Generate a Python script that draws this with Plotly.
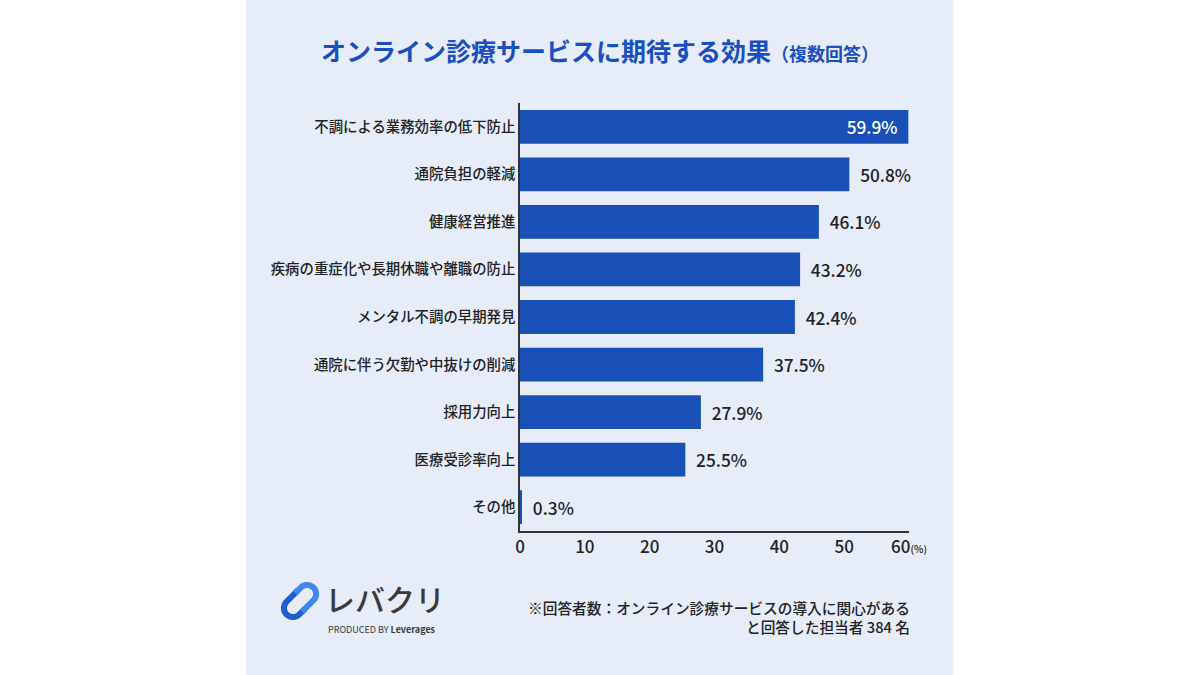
import numpy as np
import plotly.graph_objects as go

# data
categories = ["不調による業務効率の低下防止", "通院負担の軽減", "健康経営推進",
              "疾病の重症化や長期休職や離職の防止", "メンタル不調の早期発見",
              "通院に伴う欠勤や中抜けの削減", "採用力向上", "医療受診率向上", "その他"]
values = [59.9, 50.8, 46.1, 43.2, 42.4, 37.5, 27.9, 25.5, 0.3]
x_ticks = [0, 10, 20, 30, 40, 50, 60]
x_ticktext = ["0", "10", "20", "30", "40", "50",
              "60<span style='font-size:10px'>(%)</span>"]

FONT = "Noto Sans CJK JP"
BAR = "#1850b8"
PANEL = "#e6ecf8"
INK = "#222222"

# plot area in pixels
L, R, T, B = 520, 909, 103, 531
def px(x):
    return (x - L) / (R - L)
def py(y):
    return (B - y) / (B - T)

positions = ["inside" if v == max(values) else "outside" for v in values]
labels = ["%.1f%%\u00a0\u00a0" % v if p == "inside" else "\u00a0\u00a0%.1f%%" % v
          for v, p in zip(values, positions)]

fig = go.Figure(go.Bar(
    x=values, y=categories, orientation="h",
    marker=dict(color=BAR, line=dict(width=0)),
    text=labels, textposition=positions, insidetextanchor="end",
    insidetextfont=dict(color="white", size=17.3, family=FONT, weight=500),
    outsidetextfont=dict(color=INK, size=17.3, family=FONT, weight=500),
    cliponaxis=False, hoverinfo="skip",
))

shapes = [dict(type="rect", xref="paper", yref="paper", layer="below",
               x0=px(246), x1=px(953), y0=py(675), y1=py(0),
               fillcolor=PANEL, line=dict(width=0))]

# logo icon: capsule split in two halves, tilted up-right
c = np.array([300.0, 601.0])
d = np.array([1.0, -1.0]) / np.sqrt(2)
n = np.array([1.0, 1.0]) / np.sqrt(2)
r, half = 9.0, 10.0
for sign, col in [(-1, "#1d5fd0"), (1, "#3f86ee")]:
    cc = c + sign * d * half
    a0 = np.arctan2(n[1], n[0])
    ang = np.linspace(a0, a0 + np.pi, 20) if sign < 0 else np.linspace(a0 + np.pi, a0 + 2 * np.pi, 20)
    pts = [cc + r * np.array([np.cos(a), np.sin(a)]) for a in ang]
    start = pts[0] - sign * d * (half - 2)
    end = pts[-1] - sign * d * (half + 6)
    seq = [start] + pts + [end]
    path = "M " + " L ".join("%.4f,%.4f" % (px(p[0]), py(p[1])) for p in seq)
    shapes.append(dict(type="path", xref="paper", yref="paper", path=path,
                       line=dict(color=col, width=6)))

annotations = [
    dict(text="※回答者数：オンライン診療サービスの導入に関心がある<br>と回答した担当者 384 名",
         x=px(912), y=py(617), xref="paper", yref="paper", xanchor="right",
         yanchor="middle", align="right", showarrow=False,
         font=dict(size=14.7, color=INK, family=FONT, weight=500)),
    dict(text="レバクリ", x=px(323), y=py(598), xref="paper", yref="paper",
         xanchor="left", yanchor="middle", showarrow=False,
         font=dict(size=30, color="#3a3a3a", family=FONT, weight=500)),
    dict(text="PRODUCED BY <b>Leverages</b>", x=px(438), y=py(629), xref="paper", yref="paper",
         xanchor="right", yanchor="middle", showarrow=False,
         font=dict(size=9, color="#3a3a3a", family=FONT)),
]

fig.update_layout(
    width=1200, height=675,
    margin=dict(l=L, r=1200 - R, t=T, b=675 - B),
    paper_bgcolor="white", plot_bgcolor=PANEL,
    bargap=0.29, showlegend=False,
    title=dict(text="<b>オンライン診療サービスに期待する効果<span style='font-size:18px'>（複数回答）</span></b>",
               x=0.5, xref="container", y=1 - 52 / 675, yref="container",
               xanchor="center", yanchor="middle",
               font=dict(size=25, color="#1a4fbf", family=FONT)),
    xaxis=dict(range=[0, 60], tickvals=x_ticks, ticktext=x_ticktext,
               showgrid=False, zeroline=False,
               showline=True, linecolor="#333333", linewidth=1.5, ticks="",
               tickfont=dict(size=17, color=INK, family=FONT, weight=500), fixedrange=True),
    yaxis=dict(autorange="reversed", showgrid=False, showline=True,
               linecolor="#333333", linewidth=1.5, ticks="",
               tickfont=dict(size=14.4, color=INK, family=FONT, weight=500), fixedrange=True),
    shapes=shapes, annotations=annotations,
    font=dict(family=FONT),
)

fig.write_html("out.html", config={"displayModeBar": False},
               post_script="document.body.style.margin='0';")
